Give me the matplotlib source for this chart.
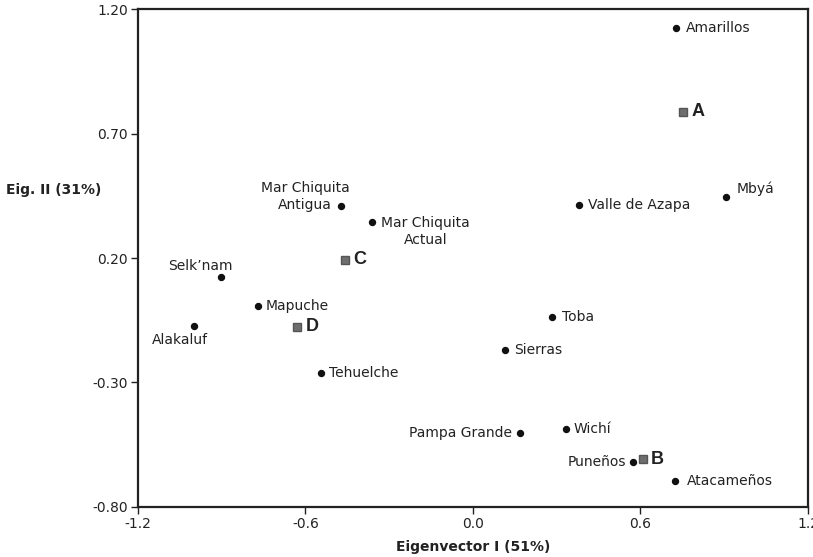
import matplotlib
matplotlib.use("Agg")
import matplotlib.pyplot as plt

plt.rcParams['font.family'] = ['DejaVu Sans']

# Populations (eigenvector scores)
pop_names = ["Amarillos", "Mbyá", "Valle de Azapa", "Mar Chiquita\nAntigua",
             "Mar Chiquita\nActual", "Selk’nam", "Mapuche", "Alakaluf",
             "Tehuelche", "Toba", "Sierras", "Pampa Grande", "Wichí",
             "Puneños", "Atacameños"]
pop_x = [0.727, 0.905, 0.381, -0.472, -0.363, -0.903, -0.770, -0.999,
         -0.543, 0.283, 0.114, 0.168, 0.333, 0.574, 0.722]
pop_y = [1.122, 0.446, 0.413, 0.410, 0.345, 0.122, 0.008, -0.073,
         -0.263, -0.037, -0.169, -0.504, -0.488, -0.618, -0.696]

# Group centroids
grp_names = ["A", "B", "C", "D"]
grp_x = [0.753, 0.608, -0.460, -0.629]
grp_y = [0.788, -0.608, 0.192, -0.076]

x_ticks = [-1.2, -0.6, 0.0, 0.6, 1.2]
x_tick_labels = ["-1.2", "-0.6", "0.0", "0.6", "1.2"]
y_ticks = [-0.80, -0.30, 0.20, 0.70, 1.20]
y_tick_labels = ["-0.80", "-0.30", "0.20", "0.70", "1.20"]

# label placement: (dx, dy) in points, ha
pop_offsets = {
    "Amarillos": (7, 0, "left"),
    "Mbyá": (8, 6, "left"),
    "Valle de Azapa": (6, 0, "left"),
    "Mar Chiquita\nAntigua": (-26, 6.5, "center"),
    "Mar Chiquita\nActual": (39, -7, "center"),
    "Selk’nam": (-14.5, 8.5, "center"),
    "Mapuche": (5.5, 0, "left"),
    "Alakaluf": (-10, -10, "center"),
    "Tehuelche": (5.5, 0, "left"),
    "Toba": (7, 0, "left"),
    "Sierras": (7, 0, "left"),
    "Pampa Grande": (-6, 0, "right"),
    "Wichí": (5.5, 0, "left"),
    "Puneños": (-5, 0, "right"),
    "Atacameños": (9, 0, "left"),
}

fig = plt.figure(figsize=(8.13, 5.57), dpi=100)
ax = fig.add_axes([0.1697, 0.0898, 0.8241, 0.894])

ax.plot(pop_x, pop_y, linestyle="none", marker="o", markersize=4.3,
        color="#111111", zorder=3)
ax.plot(grp_x, grp_y, linestyle="none", marker="s", markersize=5.3,
        markerfacecolor="#6e6e6e", markeredgecolor="#555555", zorder=3)

for name, x, y in zip(pop_names, pop_x, pop_y):
    dx, dy, ha = pop_offsets[name]
    ax.annotate(name, (x, y), xytext=(dx, dy), textcoords="offset points",
                ha=ha, va="center", ma="center", fontsize=10,
                color="#222222", linespacing=1.3)

for name, x, y in zip(grp_names, grp_x, grp_y):
    ax.annotate(name, (x, y), xytext=(6, 0), textcoords="offset points",
                ha="left", va="center", fontsize=13, fontweight="bold",
                color="#222222", family=["Liberation Sans", "DejaVu Sans"])

ax.set_xlim(-1.2, 1.2)
ax.set_ylim(-0.8, 1.2)
ax.set_xticks(x_ticks)
ax.set_xticklabels(x_tick_labels)
ax.set_yticks(y_ticks)
ax.set_yticklabels(y_tick_labels)
ax.tick_params(direction="out", length=5, width=1, labelsize=10,
               colors="#222222", pad=2)

for s in ax.spines.values():
    s.set_linewidth(1.6)
    s.set_color("#222222")

ax.set_xlabel("Eigenvector I (51%)", fontsize=10, fontweight="bold",
              color="#222222", labelpad=7)
fig.text(0.007, 1 - 190 / 557, "Eig. II (31%)", fontsize=10,
         fontweight="bold", color="#222222", ha="left", va="center")

fig.savefig("out.png", dpi=100)
